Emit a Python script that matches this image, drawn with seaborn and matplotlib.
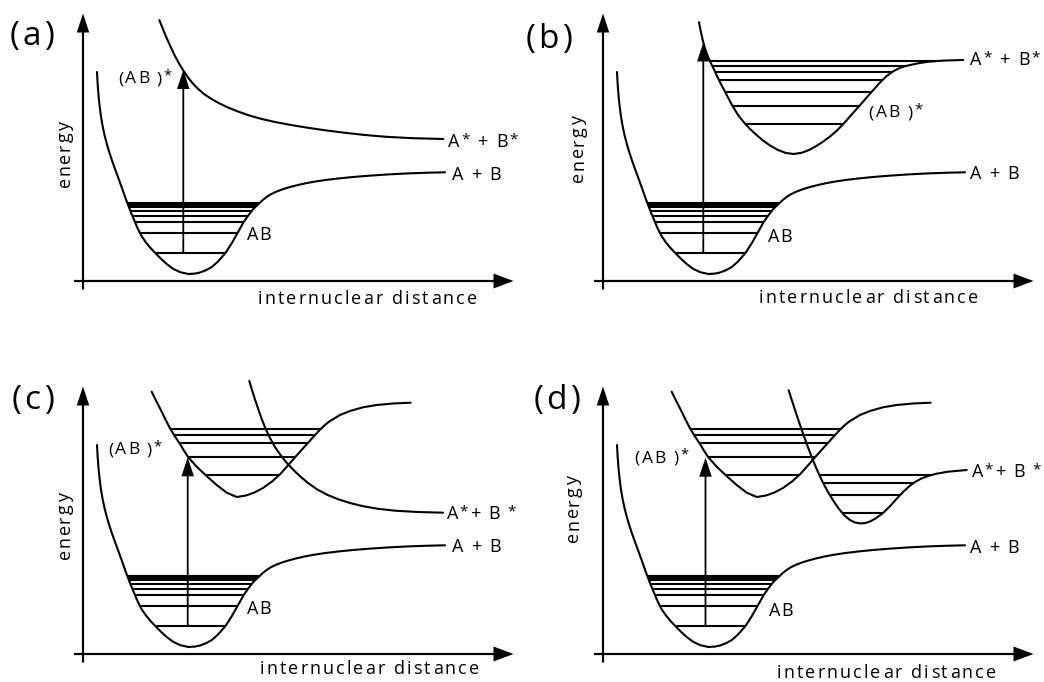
import numpy as np
import matplotlib
matplotlib.use("Agg")
import matplotlib.pyplot as plt
import seaborn as sns

sns.set_theme(style="white")
FONT = ["Open Sans", "DejaVu Sans"]
plt.rcParams["font.family"] = FONT

FIG_W, FIG_H = 1044, 682          # output size in pixels (dpi 100)
XLIM, YLIM = (-80, 440), (-28, 275)  # local frame of each panel, 1 unit = 1 px

# ---------------- potential curves (internuclear distance, energy) ----------------
# ground state AB, identical in every panel
ground_x = [14, 14.6, 15.4, 16.5, 17.9, 19.6, 21.5, 23.7, 26.2, 29, 32.2, 35.7, 39.3,
            43, 46.8, 50.7, 54.5, 58.5, 63, 67.5, 72, 78, 83.7, 90, 97, 105.3, 112,
            117, 123, 128.7, 135, 142.7, 148.7, 154.7, 160.3, 165, 170.3, 176.3, 180,
            184, 188, 193, 199, 206, 214, 223, 233, 244, 256, 270, 286, 304, 325, 345,
            362]
ground_y = [209, 198, 187, 176, 165, 155, 146, 137.5, 129, 120.5, 111.5, 102, 92, 81.5,
            71.5, 62, 53, 45, 38.5, 33, 28.3, 22.2, 17, 12.3, 8.9, 7.0, 7.4, 8.5, 10.8,
            13.9, 19.5, 28.3, 37.7, 48.3, 58.3, 65.2, 72, 77.7, 81.2, 84.3, 86.8, 89.2,
            91.5, 93.7, 95.8, 97.8, 99.6, 101.2, 102.6, 104, 105.3, 106.5, 107.6, 108.3,
            108.7]
ground_levels = [28.3, 48.3, 58.7, 65.3, 70.3, 73.7, 76.0, 78.3]

# (a) repulsive excited state
rep_a_x = [76.3, 79.5, 83, 87, 91.5, 96, 100.3, 105, 110.3, 115.5, 121, 128, 136, 145,
           155, 166, 178, 192, 208, 225, 243, 262, 282, 303, 330, 360.3]
rep_a_y = [261, 253, 244.5, 235.5, 226, 217.5, 210.5, 203.5, 197, 191.7, 187, 182.3,
           177.8, 173.5, 169.5, 165.6, 162.2, 159, 156, 153.2, 150.6, 148.2, 146, 144.2,
           142.8, 142]

# (b) bound excited state
exc_b_x = [96, 97.8, 99.8, 102, 104.5, 107.2, 110.3, 114, 118, 122, 128.7, 135, 141,
           147, 153, 160, 167, 175, 183, 190.7, 199, 206, 213, 220, 227, 234, 240.3,
           248.7, 257, 263.7, 270.3, 277, 283.7, 290, 296, 302, 310.3, 318, 326, 340,
           360.3]
exc_b_y = [258.7, 249.5, 240.5, 232.5, 225.5, 219.3, 213, 205, 197, 189.3, 176.5, 166,
           158.5, 152, 146.5, 140.5, 135.5, 131, 128, 127, 128.3, 131, 134.8, 139.3,
           144.5, 150.5, 157, 166.5, 175.8, 183.5, 191, 198.5, 205, 209.6, 212.7, 214.8,
           216.7, 218.2, 219.3, 220.4, 221]
exc_b_levels = [157, 175, 189.3, 201, 209.3, 215.3, 220]

# (c), (d) bound excited state
exc_c_x = [68.7, 72.7, 77, 82, 87, 92, 97, 101, 105.3, 113.7, 123, 133.7, 143.7, 153.7,
           163, 171, 180, 189, 197, 204, 210.3, 217, 223.7, 230.5, 237, 242, 247, 257,
           267, 280, 293.7, 310, 327.7]
exc_c_y = [262.3, 254, 245.7, 235.5, 225.7, 217.5, 210, 203.3, 196.7, 187.3, 178.5,
           169, 161.3, 157, 158.5, 161.3, 166, 172.5, 179.7, 187.5, 194.7, 202.3, 209.7,
           217.3, 224.3, 229, 233, 239, 243, 246.7, 249, 250.5, 251.3]
exc_c_levels = [179, 197, 211.5, 219, 225.3]

# (c), (d) repulsive state crossing the bound one
rep_c_x = [166.3, 169, 172, 175.3, 178.7, 182.5, 187, 192, 197.5, 203.5, 210, 217, 225,
           234, 244, 255, 267, 280, 295, 312, 335, 360]
rep_c_y = [273, 264, 254.5, 244.7, 235, 225.5, 216, 207, 199, 191.5, 184.5, 177.8, 171,
           164.7, 159.3, 154.8, 151, 147.8, 145.2, 143.3, 142, 141.3]

# (d) second bound state correlating with A* + B*
exc_d_x = [185.7, 189, 192.5, 196, 200, 204.5, 209.3, 214.3, 219.5, 225, 230.5, 236,
           241.5, 247, 252, 257, 262, 267, 273, 280, 287, 293.7, 300, 306, 312, 318, 325,
           333, 345, 363.7]
exc_d_y = [263.7, 253.3, 242.5, 232, 220.5, 208, 195.5, 183.5, 172.3, 162, 153, 145,
           138.5, 134, 131.5, 130.6, 130.9, 132.5, 135.8, 141, 147.8, 155.3, 162, 167.5,
           172, 175.3, 178, 180.2, 182.3, 184]
exc_d_levels = [141.3, 159, 171.3, 179]

# vertical transitions: (x, arrow tip energy)
arrow_a = (100.3, 211)
arrow_b = (100.3, 238.5)
arrow_c = (104.7, 196.7)
arrow_d = (102.5, 196.3)

# ---------------- text helpers ----------------
_adv = {}


def advance(fig, renderer, ch, size):
    key = (ch, size)
    if key not in _adv:
        def width(s):
            t = fig.text(0, 0, s, fontsize=size, family=FONT)
            w = t.get_window_extent(renderer).width
            t.remove()
            return w
        _adv[key] = width("H" + ch + "H") - width("HH")
    return _adv[key]


def spaced_text(ax, x, y, text, size=13, track=1.8, ha="left", rotation=0, sup=0.22):
    """Letter-spaced text; '^' raises the next character as a superscript."""
    fig = ax.figure
    renderer = fig.canvas.get_renderer()
    glyphs, i = [], 0
    while i < len(text):
        if text[i] == "^":
            glyphs.append((text[i + 1], size * 0.85, sup * size * 100 / 72))
            i += 2
        else:
            glyphs.append((text[i], size, 0.0))
            i += 1
    advs = [advance(fig, renderer, c, s) for c, s, _ in glyphs]
    total = sum(advs) + track * (len(glyphs) - 1)
    pos = {"left": 0.0, "center": -total / 2, "right": -total}[ha]
    for (c, s, lift), a in zip(glyphs, advs):
        if c != " ":
            if rotation == 0:
                ax.text(x + pos, y + lift, c, fontsize=s, ha="left", va="baseline",
                        family=FONT, color="black")
            else:
                ax.text(x - lift, y + pos, c, fontsize=s, rotation=90,
                        rotation_mode="anchor", ha="left", va="baseline",
                        family=FONT, color="black")
        pos += a + track


# ---------------- panels ----------------
panels = [
    dict(origin=(83, 281),
         curves=[(ground_x, ground_y), (rep_a_x, rep_a_y)],
         levels=[(ground_x, ground_y, ground_levels)],
         arrow=arrow_a,
         labels=[("(a)", -73, 236, 24, "left", 0, 3.0),
                 ("(AB )^*", 35.3, 197.7, 12.5, "left", 0, 1.6),
                 ("A^* + B^*", 365.3, 134, 13, "left", 0, 1.6),
                 ("A + B", 369, 101, 13, "left", 0, 1.6),
                 ("AB", 164, 41, 13, "left", 0, 1.2),
                 ("energy", -13.3, 126.5, 13, "center", 90, 1.6),
                 ("internuclear distance", 175, -22.5, 13, "left", 0, 2.1)]),
    dict(origin=(603, 281),
         curves=[(ground_x, ground_y), (exc_b_x, exc_b_y)],
         levels=[(ground_x, ground_y, ground_levels), (exc_b_x, exc_b_y, exc_b_levels)],
         arrow=arrow_b,
         labels=[("(b)", -77.7, 232.7, 24, "left", 0, 3.0),
                 ("(AB )^*", 265.7, 163.7, 12.5, "left", 0, 1.6),
                 ("A^* + B^*", 367.3, 216, 13, "left", 0, 1.6),
                 ("A + B", 367.3, 102, 13, "left", 0, 1.6),
                 ("AB", 165, 39.3, 13, "left", 0, 1.2),
                 ("energy", -19.6, 132, 13, "center", 90, 1.6),
                 ("internuclear distance", 156, -22.3, 13, "left", 0, 2.1)]),
    dict(origin=(83, 654),
         curves=[(ground_x, ground_y), (exc_c_x, exc_c_y), (rep_c_x, rep_c_y)],
         levels=[(ground_x, ground_y, ground_levels), (exc_c_x, exc_c_y, exc_c_levels)],
         arrow=arrow_c,
         labels=[("(c)", -71.3, 244.7, 24, "left", 0, 3.0),
                 ("(AB )^*", 25.3, 199.7, 12.5, "left", 0, 1.6),
                 ("A^*+ B ^*", 363.7, 134.7, 13, "left", 0, 1.6),
                 ("A + B", 368.7, 102.3, 13, "left", 0, 1.6),
                 ("AB", 163.7, 40.3, 13, "left", 0, 1.2),
                 ("energy", -13.3, 128, 13, "center", 90, 1.6),
                 ("internuclear distance", 177, -20.3, 13, "left", 0, 2.1)]),
    dict(origin=(603, 654),
         curves=[(ground_x, ground_y), (exc_c_x, exc_c_y), (exc_d_x, exc_d_y)],
         levels=[(ground_x, ground_y, ground_levels), (exc_c_x, exc_c_y, exc_c_levels),
                 (exc_d_x, exc_d_y, exc_d_levels)],
         arrow=arrow_d,
         labels=[("(d)", -69.3, 244.7, 24, "left", 0, 3.0),
                 ("(AB )^*", 31.7, 191.3, 12.5, "left", 0, 1.6),
                 ("A^*+ B ^*", 368.7, 176.7, 13, "left", 0, 1.6),
                 ("A + B", 367, 101.3, 13, "left", 0, 1.6),
                 ("AB", 165.7, 38, 13, "left", 0, 1.2),
                 ("energy", -24.6, 145, 13, "center", 90, 1.6),
                 ("internuclear distance", 174, -23.6, 13, "left", 0, 2.1)]),
]


def level_span(cx, cy, e):
    cx, cy = np.asarray(cx, float), np.asarray(cy, float)
    k = int(np.argmin(cy))
    left = np.interp(e, cy[:k + 1][::-1], cx[:k + 1][::-1])
    right = np.interp(e, cy[k:], cx[k:])
    return left, right


fig = plt.figure(figsize=(FIG_W / 100, FIG_H / 100), dpi=100)
fig.patch.set_facecolor("white")

LW = 1.5
for p in panels:
    ox, oy = p["origin"]
    left_px = ox + XLIM[0]
    bottom_px = oy - YLIM[0]
    ax = fig.add_axes([left_px / FIG_W, (FIG_H - bottom_px) / FIG_H,
                       (XLIM[1] - XLIM[0]) / FIG_W, (YLIM[1] - YLIM[0]) / FIG_H])
    ax.set_facecolor("none")

    # axes with arrowheads
    ax.arrow(-9, 0, 439.5, 0, width=2.2, head_width=15, head_length=20,
             length_includes_head=True, color="black", lw=0)
    ax.arrow(0, -8.5, 0, 276, width=2.2, head_width=12.5, head_length=19,
             length_includes_head=True, color="black", lw=0)

    # potential energy curves
    for cx, cy in p["curves"]:
        sns.lineplot(x=np.asarray(cx), y=np.asarray(cy), sort=False, estimator=None,
                     color="black", linewidth=LW, ax=ax)

    # vibrational levels bounded by their well
    for cx, cy, levs in p["levels"]:
        spans = [level_span(cx, cy, e) for e in levs]
        ax.hlines(levs, [s[0] for s in spans], [s[1] for s in spans],
                  color="black", linewidth=LW)

    # vertical transition from the lowest ground level
    axx, tip = p["arrow"]
    ax.arrow(axx, ground_levels[0], 0, tip - ground_levels[0], width=1.8,
             head_width=12.5, head_length=19, length_includes_head=True,
             color="black", lw=0)

    ax.set_xlim(*XLIM)
    ax.set_ylim(*YLIM)
    ax.axis("off")

    for text, x, y, size, ha, rot, track in p["labels"]:
        spaced_text(ax, x, y, text, size=size, track=track, ha=ha, rotation=rot)

fig.savefig("out.png", dpi=100, facecolor="white")
